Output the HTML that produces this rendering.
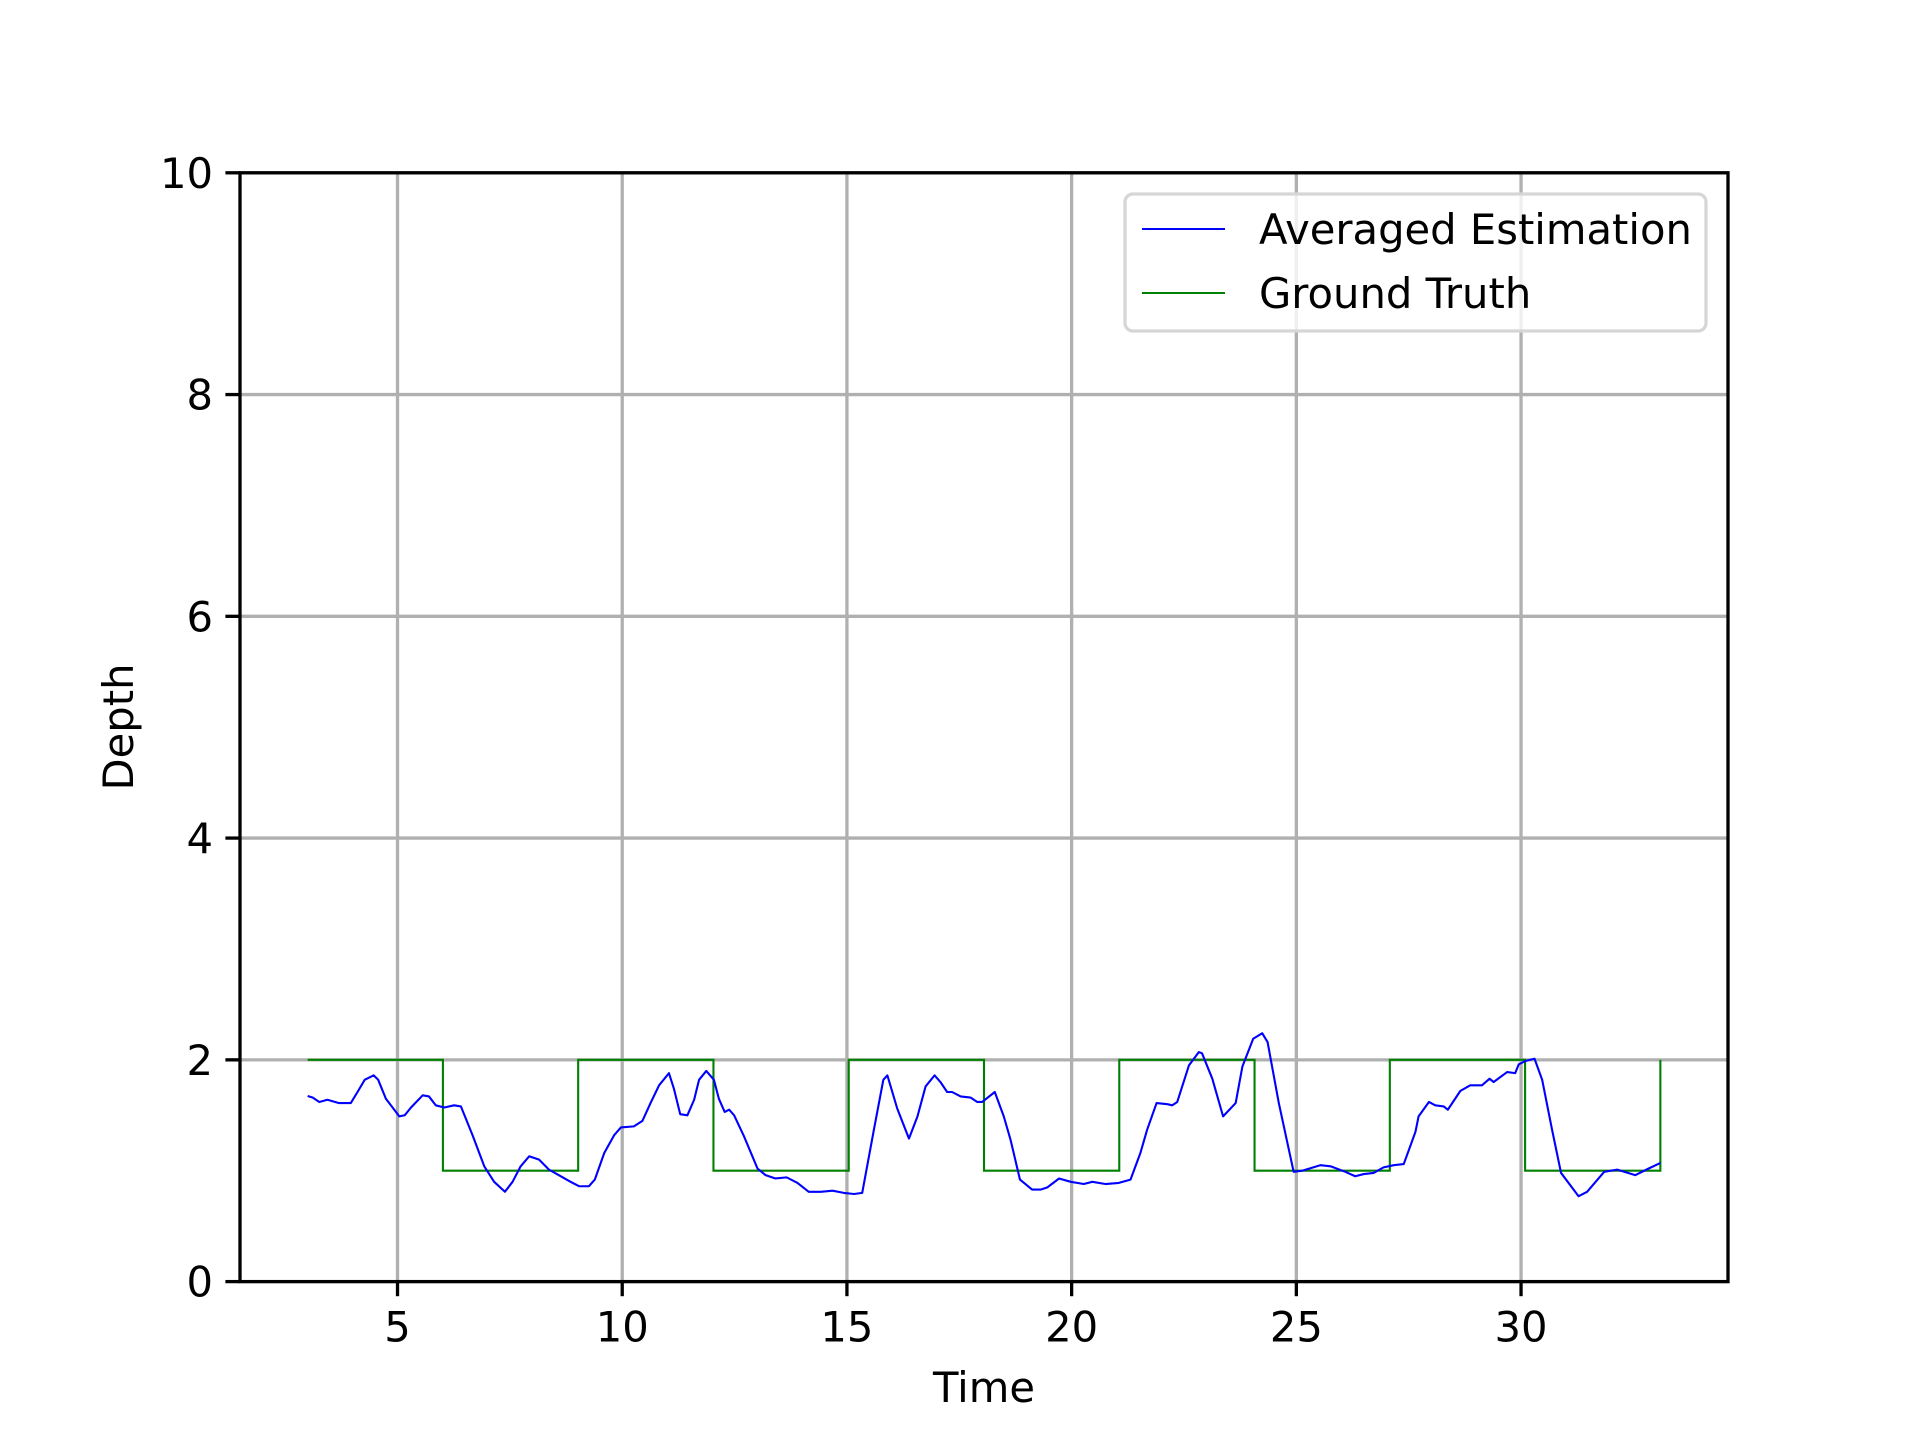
<!DOCTYPE html>
<html><head><meta charset="utf-8"><style>
html,body{margin:0;padding:0;background:#fff;}
svg{display:block;font-family:"DejaVu Sans","Liberation Sans",sans-serif;}
</style></head><body>
<svg id="chart" width="1920" height="1440" viewBox="0 0 1920 1440" xmlns="http://www.w3.org/2000/svg">
<rect width="1920" height="1440" fill="#fff"/>
<g id="grid"></g>
<g id="series"></g>
<rect x="240" y="172.8" width="1488" height="1108.8" fill="none" stroke="#000" stroke-width="3.3"/>
<g id="ticks"></g>
<text x="984" y="1402" font-size="41.7" text-anchor="middle">Time</text>
<text x="0" y="0" font-size="41.7" text-anchor="middle" transform="translate(133,727) rotate(-90)">Depth</text>
<g>
<rect x="1125" y="194" width="581" height="137" rx="8" fill="#fff" fill-opacity="0.8" stroke="#d6d6d6" stroke-width="3.3"/>
<line x1="1142" y1="229" x2="1225" y2="229" stroke="#0000ff" stroke-width="2.1"/>
<text x="1259" y="244" font-size="41.7">Averaged Estimation</text>
<line x1="1142" y1="293" x2="1225" y2="293" stroke="#008000" stroke-width="2.1"/>
<text x="1259" y="308" font-size="41.7">Ground Truth</text>
</g>
</svg>
<script>
const estT=[3.0,3.11,3.26,3.44,3.70,3.96,4.11,4.27,4.47,4.57,4.74,5.04,5.16,5.30,5.56,5.70,5.85,6.04,6.26,6.41,6.67,6.93,7.15,7.39,7.56,7.74,7.93,8.15,8.37,8.59,8.85,9.04,9.26,9.39,9.60,9.82,9.97,10.26,10.45,10.63,10.82,11.04,11.15,11.29,11.45,11.60,11.71,11.87,12.04,12.15,12.28,12.38,12.49,12.71,13.01,13.19,13.41,13.66,13.90,14.15,14.42,14.68,14.93,15.16,15.34,15.60,15.81,15.90,16.12,16.38,16.57,16.75,16.95,17.08,17.23,17.34,17.53,17.75,17.90,18.01,18.29,18.49,18.64,18.85,19.12,19.31,19.46,19.72,19.98,20.27,20.46,20.75,21.05,21.31,21.53,21.68,21.89,22.13,22.24,22.35,22.61,22.83,22.90,23.13,23.37,23.65,23.80,24.04,24.24,24.36,24.61,24.94,25.13,25.54,25.76,26.09,26.31,26.50,26.72,26.94,27.17,27.39,27.65,27.72,27.95,28.09,28.28,28.37,28.65,28.87,29.13,29.30,29.39,29.69,29.87,29.95,30.10,30.30,30.47,30.69,30.89,31.28,31.47,31.85,32.14,32.54,32.84,33.10];
const estV=[1.674,1.66,1.62,1.64,1.61,1.61,1.71,1.82,1.86,1.82,1.65,1.49,1.50,1.57,1.68,1.67,1.59,1.57,1.59,1.58,1.32,1.04,0.90,0.81,0.90,1.04,1.13,1.10,1.01,0.96,0.90,0.86,0.86,0.92,1.16,1.32,1.39,1.40,1.45,1.61,1.77,1.88,1.74,1.51,1.50,1.64,1.82,1.90,1.82,1.65,1.53,1.55,1.50,1.31,1.02,0.96,0.93,0.94,0.89,0.81,0.81,0.82,0.80,0.79,0.80,1.37,1.82,1.86,1.56,1.29,1.49,1.76,1.86,1.80,1.71,1.71,1.67,1.66,1.62,1.62,1.71,1.49,1.28,0.92,0.83,0.83,0.85,0.93,0.90,0.88,0.90,0.88,0.89,0.92,1.16,1.37,1.61,1.60,1.59,1.62,1.95,2.07,2.06,1.83,1.49,1.61,1.94,2.19,2.24,2.16,1.61,0.99,1.00,1.05,1.04,0.99,0.95,0.97,0.98,1.03,1.05,1.06,1.35,1.49,1.62,1.59,1.58,1.55,1.72,1.77,1.77,1.83,1.80,1.89,1.88,1.96,1.99,2.01,1.82,1.37,0.98,0.77,0.81,0.99,1.01,0.96,1.02,1.07];
const stepT=[3.0,6.01,9.02,12.03,15.04,18.05,21.06,24.07,27.08,30.09,33.1];
const stepV=[2,1,2,1,2,1,2,1,2,1,2];
const xTicks=[5,10,15,20,25,30];
const yTicks=[0,2,4,6,8,10];
const X0=1.495,X1=34.605,Y0=0,Y1=10;
const L=240,R=1728,T=172.8,B=1281.6;
const sx=v=>L+(v-X0)/(X1-X0)*(R-L);
const sy=v=>B-(v-Y0)/(Y1-Y0)*(B-T);
const NS='http://www.w3.org/2000/svg';
function mk(tag,parent){const e=document.createElementNS(NS,tag);parent.appendChild(e);return e;}
const grid=document.getElementById('grid'),ticks=document.getElementById('ticks'),series=document.getElementById('series');
xTicks.forEach(t=>{
  const g=mk('line',grid);
  
  
  g.setAttribute('x1',sx(t));g.setAttribute('x2',sx(t));g.setAttribute('y1',T);g.setAttribute('y2',B);
  g.setAttribute('stroke','#b0b0b0');g.setAttribute('stroke-width','3.3');
  const k=mk('line',ticks);
  
  
  k.setAttribute('x1',sx(t));k.setAttribute('x2',sx(t));k.setAttribute('y1',B);k.setAttribute('y2',B+14.6);
  k.setAttribute('stroke','#000');k.setAttribute('stroke-width','3.3');
  const s=mk('text',ticks);
  
  
  s.setAttribute('x',sx(t));s.setAttribute('y',B+60);s.setAttribute('font-size','41.7');s.setAttribute('text-anchor','middle');
  s.textContent=t;
});
yTicks.forEach(t=>{
  const g=mk('line',grid);
  
  
  g.setAttribute('x1',L);g.setAttribute('x2',R);g.setAttribute('y1',sy(t));g.setAttribute('y2',sy(t));
  g.setAttribute('stroke','#b0b0b0');g.setAttribute('stroke-width','3.3');
  const k=mk('line',ticks);
  
  
  k.setAttribute('x1',L-14.6);k.setAttribute('x2',L);k.setAttribute('y1',sy(t));k.setAttribute('y2',sy(t));
  k.setAttribute('stroke','#000');k.setAttribute('stroke-width','3.3');
  const s=mk('text',ticks);
  
  
  s.setAttribute('x',L-27);s.setAttribute('y',sy(t)+15);s.setAttribute('font-size','41.7');s.setAttribute('text-anchor','end');
  s.textContent=t;
});
let d='';
for(let i=0;i<stepT.length;i++){
  if(i===0)d+='M'+sx(stepT[0])+','+sy(stepV[0]);
  else d+=' L'+sx(stepT[i])+','+sy(stepV[i-1])+' L'+sx(stepT[i])+','+sy(stepV[i]);
}
const gt=mk('path',series);


gt.setAttribute('d',d);gt.setAttribute('fill','none');gt.setAttribute('stroke','#008000');gt.setAttribute('stroke-width','2.1');
const pe=mk('polyline',series);


pe.setAttribute('points',estT.map((t,i)=>sx(t)+','+sy(estV[i])).join(' '));
pe.setAttribute('fill','none');pe.setAttribute('stroke','#0000ff');pe.setAttribute('stroke-width','2.1');pe.setAttribute('stroke-linejoin','round');
</script>
</body></html>
